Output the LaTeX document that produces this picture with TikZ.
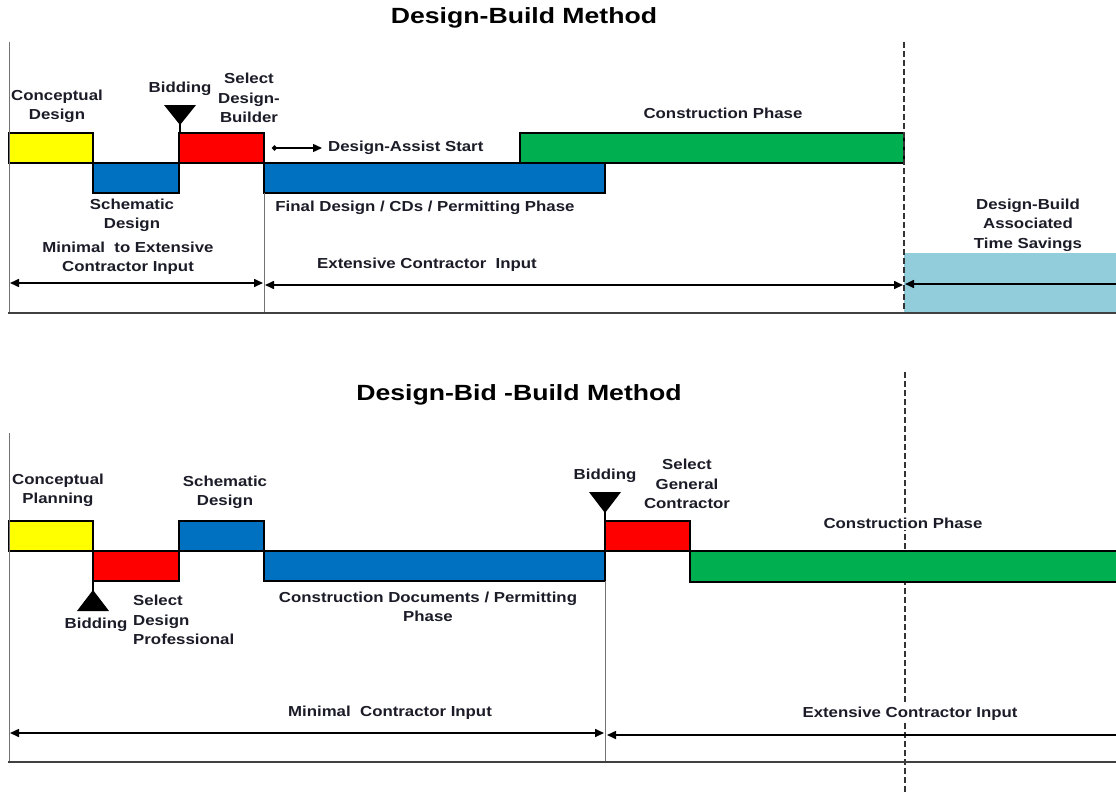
\documentclass[tikz,border=0pt]{standalone}
\usepackage{fontspec}
\setmainfont{Liberation Sans}
\usetikzlibrary{arrows.meta}
\definecolor{cyel}{HTML}{FFFF00}
\definecolor{cred}{HTML}{FF0000}
\definecolor{cblue}{HTML}{0070C0}
\definecolor{cgreen}{HTML}{00B050}
\definecolor{caqua}{HTML}{92CDDC}
\definecolor{ctext}{HTML}{1C1C28}
\begin{document}
\begin{tikzpicture}[x=1pt,y=-1pt,
 phase/.style={draw=black, line width=1.3pt, inner sep=0pt, outer sep=0pt, anchor=north west},
 lbl/.style={font=\fontsize{14.5}{19.5}\selectfont\bfseries, text=ctext, align=center, xscale=1.16, inner sep=0pt},
 ttl/.style={font=\fontsize{22}{26}\selectfont\bfseries, text=black, xscale=1.21, inner sep=0pt},
 dimarrow/.style={line width=1.6pt, {Triangle[length=9pt,width=8pt]}-{Triangle[length=9pt,width=8pt]}},
 leftarrow/.style={line width=1.6pt, {Triangle[length=9pt,width=8pt]}-},
 axisline/.style={draw=black!75, line width=2.5pt},
 vline/.style={draw=black!55, line width=0.8pt},
 dline/.style={draw=black!80, line width=1.3pt, dash pattern=on 6pt off 3pt},
 marker/.style={fill=black},
]
\useasboundingbox (0,0) rectangle (1116,792);
\fill[white] (0,0) rectangle (1116,792);

% ================= TOP: Design-Build =================
\node[ttl] (t1) at (524,18) {Design-Build Method};

\fill[caqua] (904,253) rectangle (1116,313);

\node[phase, fill=cyel, minimum width=84pt, minimum height=30pt] (cd) at (9,133) {};
\node[phase, fill=cblue, minimum width=86pt, minimum height=30pt] (sd) at (93,163) {};
\node[phase, fill=cred, minimum width=85pt, minimum height=30pt] (sdb) at (179,133) {};
\node[phase, fill=cblue, minimum width=341pt, minimum height=30pt] (fd) at (264,163) {};
\node[phase, fill=cgreen, minimum width=384pt, minimum height=30pt] (cp) at (520,133) {};

\coordinate (lv1t) at (9,42);
\coordinate (lv1b) at (9,313);
\draw[vline] (lv1t) -- (lv1b);
\coordinate (v264t) at (264,193);
\coordinate (v264b) at (264,313);
\draw[vline] (v264t) -- (v264b);
\coordinate (dsh1t) at (904,42);
\coordinate (dsh1b) at (904,313);
\draw[dline] (dsh1t) -- (dsh1b);
\coordinate (ax1l) at (8,313);
\coordinate (ax1r) at (1116,313);
\draw[axisline] (ax1l) -- (ax1r);

% bidding marker
\fill[marker] (164,105) -- (196,105) -- (180,125) -- cycle;
\coordinate (bm1) at (180,124);
\coordinate (bm1b) at (180,133);
\draw[line width=1.2pt] (bm1) -- (bm1b);

% arrows
\coordinate (a1l) at (10,283);
\coordinate (a1r) at (263,283);
\draw[dimarrow] (a1l) -- (a1r);
\coordinate (a2l) at (265,285);
\coordinate (a2r) at (903,285);
\draw[dimarrow] (a2l) -- (a2r);
\coordinate (a3l) at (905,284);
\coordinate (a3r) at (1116,284);
\draw[leftarrow] (a3l) -- (a3r);
\coordinate (dal) at (272,148);
\coordinate (dar) at (322,148);
\draw[line width=1.4pt, {Circle[length=5pt]}-{Triangle[length=9pt,width=8pt]}] (dal) -- (dar);

% labels
\node[lbl] (l1) at (57,106.5) {Conceptual\\Design};
\node[lbl] (l2) at (180,89) {Bidding};
\node[lbl] (l3) at (249,98) {Select\\Design-\\Builder};
\node[lbl] (l4) at (132,215.5) {Schematic\\Design};
\node[lbl] (l5) at (128,258) {Minimal\ \ to Extensive\\Contractor Input};
\node[lbl, anchor=west] (l6) at (328,148) {Design-Assist Start};
\node[lbl] (l7) at (425,208) {Final Design / CDs / Permitting Phase};
\node[lbl] (l8) at (427,265) {Extensive Contractor\ \ Input};
\node[lbl] (l9) at (723,113) {Construction Phase};
\node[lbl] (l10) at (1028,225) {Design-Build\\Associated\\Time Savings};

% ================= BOTTOM: Design-Bid-Build =================
\node[ttl] (t2) at (519,395) {Design-Bid -Build Method};

\coordinate (dsh2t) at (905,372);
\coordinate (dsh2b) at (905,792);
\draw[dline] (dsh2t) -- (dsh2b);

\node[phase, fill=cyel, minimum width=84pt, minimum height=30pt] (cp2) at (9,521) {};
\node[phase, fill=cred, minimum width=86pt, minimum height=30pt] (sdp) at (93,551) {};
\node[phase, fill=cblue, minimum width=85pt, minimum height=30pt] (sd2) at (179,521) {};
\node[phase, fill=cblue, minimum width=341pt, minimum height=30pt] (cdp) at (264,551) {};
\node[phase, fill=cred, minimum width=85pt, minimum height=30pt] (sgc) at (605,521) {};
\node[phase, fill=cgreen, minimum width=440pt, minimum height=31pt] (cons) at (690,551) {};

\coordinate (lv2t) at (9,433);
\coordinate (lv2b) at (9,762);
\draw[vline] (lv2t) -- (lv2b);
\coordinate (v605t) at (605,581);
\coordinate (v605b) at (605,762);
\draw[vline] (v605t) -- (v605b);
\coordinate (ax2l) at (8,762);
\coordinate (ax2r) at (1116,762);
\draw[axisline] (ax2l) -- (ax2r);

% bidding markers
\fill[marker] (77,611) -- (109,611) -- (93,590) -- cycle;
\coordinate (bm2) at (93,591);
\coordinate (bm2b) at (93,581);
\draw[line width=1.2pt] (bm2b) -- (bm2);
\fill[marker] (589,492) -- (621,492) -- (605,513) -- cycle;
\coordinate (bm3) at (605,512);
\coordinate (bm3b) at (605,521);
\draw[line width=1.2pt] (bm3) -- (bm3b);

% arrows
\coordinate (b1l) at (10,733);
\coordinate (b1r) at (604,733);
\draw[dimarrow] (b1l) -- (b1r);
\coordinate (b2l) at (607,735);
\coordinate (b2r) at (1116,735);
\draw[leftarrow] (b2l) -- (b2r);

% labels
\node[lbl] (m1) at (58,490.5) {Conceptual\\Planning};
\node[lbl] (m2) at (225,492.5) {Schematic\\Design};
\node[lbl] (m3) at (96,625) {Bidding};
\node[lbl, align=left, anchor=west] (m4) at (133,620) {Select\\Design\\Professional};
\node[lbl] (m5) at (428,607) {Construction Documents / Permitting\\Phase};
\node[lbl] (m6) at (605,476) {Bidding};
\node[lbl] (m7) at (687,484) {Select\\General\\Contractor};
\node[lbl, fill=white, inner sep=2pt] (m8) at (903,523) {Construction Phase};
\node[lbl] (m9) at (390,713) {Minimal\ \ Contractor Input};
\node[lbl, fill=white, inner sep=2pt] (m10) at (910,714) {Extensive Contractor Input};
\end{tikzpicture}
\end{document}
